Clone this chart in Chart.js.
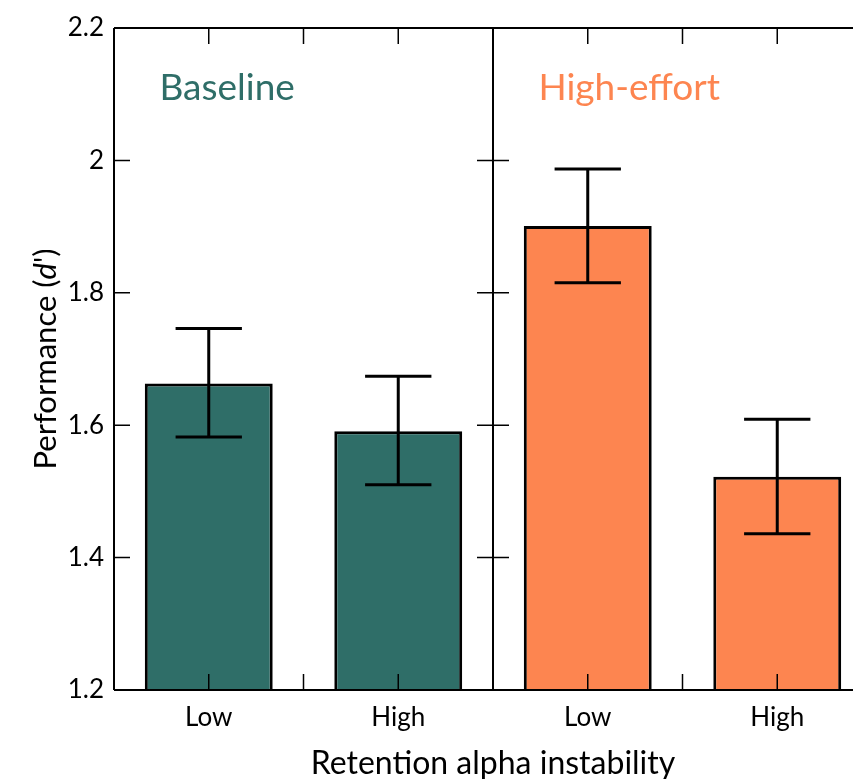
<!DOCTYPE html>
<html>
<head>
<meta charset="utf-8">
<script src="https://cdn.jsdelivr.net/npm/chart.js@4"></script>
<style>
  html, body { margin: 0; padding: 0; overflow: hidden; background: #fff; }
  canvas { display: block; }
</style>
</head>
<body>
<canvas id="perf" width="872" height="779"></canvas>
<script>
const categories = ['Low', 'High', 'Low', 'High'];
const groups = ['Baseline', 'High-effort'];
const means = [1.663, 1.591, 1.901, 1.522];
const errLower = [1.582, 1.510, 1.815, 1.436];
const errUpper = [1.746, 1.674, 1.987, 1.609];
const yTicks = [1.2, 1.4, 1.6, 1.8, 2, 2.2];

const teal = '#2f6e68';
const orange = '#fd8550';
const barColors = [teal, teal, orange, orange];
const groupColors = [teal, orange];
const fontFamily = 'Lato, "Noto Sans", sans-serif';

// frame, inward ticks, error bars and labels drawn over the bars
const frame = {
  id: 'frame',
  afterDatasetsDraw(chart) {
    const { ctx, chartArea: a, scales: { x, y } } = chart;
    const tick = 16;
    ctx.save();
    ctx.strokeStyle = '#000';

    // error bars
    ctx.lineWidth = 3;
    const half = (a.right - a.left) / categories.length * 0.175;
    means.forEach((m, i) => {
      const cx = x.getPixelForValue(i);
      const top = y.getPixelForValue(errUpper[i]);
      const bot = y.getPixelForValue(errLower[i]);
      ctx.beginPath();
      ctx.moveTo(cx, top); ctx.lineTo(cx, bot);
      ctx.moveTo(cx - half, top); ctx.lineTo(cx + half, top);
      ctx.moveTo(cx - half, bot); ctx.lineTo(cx + half, bot);
      ctx.stroke();
    });

    // x ticks (top and bottom, pointing inward)
    ctx.lineWidth = 1.5;
    ctx.beginPath();
    for (let v = 0; v < categories.length; v += 0.5) {
      if (v === 1.5) continue;
      const px = x.getPixelForValue(v);
      ctx.moveTo(px, a.bottom); ctx.lineTo(px, a.bottom - tick);
      ctx.moveTo(px, a.top); ctx.lineTo(px, a.top + tick);
    }
    // y ticks on left axis and on the divider
    const divX = x.getPixelForValue(1.5);
    yTicks.slice(1, -1).forEach(v => {
      const py = y.getPixelForValue(v);
      ctx.moveTo(a.left, py); ctx.lineTo(a.left + tick, py);
      ctx.moveTo(divX - tick, py); ctx.lineTo(divX + tick, py);
    });
    ctx.stroke();

    // axis lines and panel divider
    ctx.lineWidth = 2;
    ctx.beginPath();
    ctx.moveTo(a.left, a.top); ctx.lineTo(a.left, a.bottom);
    ctx.moveTo(a.left, a.bottom); ctx.lineTo(a.right, a.bottom);
    ctx.moveTo(a.left, a.top); ctx.lineTo(a.right, a.top);
    ctx.moveTo(divX, a.top); ctx.lineTo(divX, a.bottom);
    ctx.moveTo(a.right, a.top); ctx.lineTo(a.right, a.bottom);
    ctx.stroke();

    // panel titles
    ctx.font = '37px ' + fontFamily;
    ctx.textAlign = 'left';
    ctx.textBaseline = 'middle';
    groups.forEach((g, i) => {
      ctx.fillStyle = groupColors[i];
      ctx.fillText(g, x.getPixelForValue(i * 2 - 0.26), y.getPixelForValue(2.11));
    });

    // y title with italic d
    const parts = [['Performance (', ''], ['d', 'italic '], ["')", '']];
    ctx.fillStyle = '#000';
    ctx.translate(46, (a.top + a.bottom) / 2);
    ctx.rotate(-Math.PI / 2);
    let total = 0;
    parts.forEach(p => { ctx.font = p[1] + '31px ' + fontFamily; total += ctx.measureText(p[0]).width; });
    let px = -total / 2;
    parts.forEach(p => {
      ctx.font = p[1] + '31px ' + fontFamily;
      ctx.fillText(p[0], px, 0);
      px += ctx.measureText(p[0]).width;
    });
    ctx.restore();
  }
};

new Chart(document.getElementById('perf'), {
  type: 'bar',
  data: {
    labels: categories,
    datasets: [{
      data: means,
      backgroundColor: barColors,
      borderColor: '#000',
      borderWidth: 3,
      borderSkipped: false,
      categoryPercentage: 1,
      barPercentage: 0.675
    }]
  },
  options: {
    responsive: false,
    animation: false,
    devicePixelRatio: 1,
    layout: { padding: { top: 28, left: 0, right: 0, bottom: 0 } },
    plugins: { legend: { display: false }, tooltip: { enabled: false } },
    scales: {
      x: {
        grid: { display: false, drawTicks: false },
        border: { display: false },
        ticks: { color: '#000', font: { family: fontFamily, size: 26 }, padding: 12 },
        title: {
          display: true,
          text: 'Retention alpha instability',
          color: '#000',
          font: { family: fontFamily, size: 32 },
          padding: { top: 0, bottom: -4 }
        },
        afterFit(scale) { scale.height = 89; }
      },
      y: {
        min: 1.2,
        max: 2.2,
        grid: { display: false, drawTicks: false },
        border: { display: false },
        afterBuildTicks(scale) { scale.ticks = yTicks.map(v => ({ value: v })); },
        ticks: {
          color: '#000',
          font: { family: fontFamily, size: 26 },
          padding: 10,
          callback: v => String(Number(v.toFixed(1)))
        },
        afterFit(scale) { scale.width = 114; }
      }
    }
  },
  plugins: [frame]
});
</script>
</body>
</html>
